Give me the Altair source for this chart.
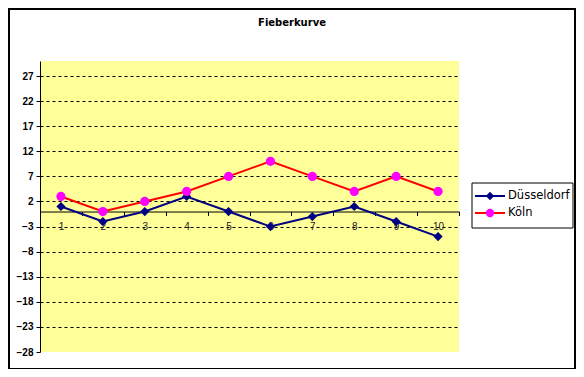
import altair as alt
import pandas as pd

# ---- data ----
days = [1, 2, 3, 4, 5, 6, 7, 8, 9, 10]
duesseldorf = [1, -2, 0, 3, 0, -3, -1, 1, -2, -5]
koeln = [3, 0, 2, 4, 7, 10, 7, 4, 7, 4]
series_names = ["Düsseldorf", "Köln"]
line_colors = ["#000080", "#FF0000"]
marker_colors = ["#000080", "#FF00FF"]
marker_shapes = ["diamond", "circle"]
y_ticks = [-28, -23, -18, -13, -8, -3, 2, 7, 12, 17, 22, 27]
y_domain = [-28, 30]
title_text = "Fieberkurve"

rows = []
for d, a, b in zip(days, duesseldorf, koeln):
    rows.append({"day": d, "temp": a, "series": series_names[0], "marker": series_names[0]})
    rows.append({"day": d, "temp": b, "series": series_names[1], "marker": series_names[1]})
df = pd.DataFrame(rows)

W, H = 419, 291
# pixel position of y = 0 from the top of the plot area
y0 = H * (y_domain[1] - 0) / (y_domain[1] - y_domain[0])

x_enc = alt.X(
    "day:O",
    bandPosition=0.5,
    scale=alt.Scale(type="band", paddingInner=0, paddingOuter=0),
    axis=alt.Axis(
        title=None, orient="bottom", offset=-(H - y0), labelAngle=0,
        tickBand="extent", tickSize=4, tickColor="black", domainColor="black",
        domainWidth=1, labelPadding=6, labelFont="Liberation Sans",
        labelFontSize=10, labelColor="#222222", grid=False,
    ),
)
y_enc = alt.Y(
    "temp:Q",
    scale=alt.Scale(domain=y_domain, nice=False, zero=False),
    axis=alt.Axis(
        title=None, values=y_ticks, tickSize=4, tickColor="black",
        domainColor="black", labelPadding=3, labelFont="Liberation Sans",
        labelFontSize=10, labelFontWeight="bold", labelColor="black",
        grid=True, gridColor="black", gridDash=[3, 3], gridWidth=1,
        gridOpacity=alt.condition("datum.value == -28", alt.value(0), alt.value(1)),
    ),
)

base = alt.Chart(df)
lines = base.mark_line(strokeWidth=2).encode(
    x=x_enc, y=y_enc,
    stroke=alt.Stroke("series:N", scale=alt.Scale(domain=series_names, range=line_colors), legend=None),
    detail="series:N",
)
points = base.mark_point(filled=True, opacity=1, size=85, strokeWidth=0).encode(
    x=x_enc, y=y_enc,
    fill=alt.Fill("marker:N", scale=alt.Scale(domain=series_names, range=marker_colors), legend=None),
    shape=alt.Shape("marker:N", scale=alt.Scale(domain=series_names, range=marker_shapes), legend=None),
)

# outer chart border
border = alt.Chart(pd.DataFrame({"a": [0]})).mark_rect(
    fill=None, stroke="black", strokeWidth=2
).encode(x=alt.value(-31), x2=alt.value(535), y=alt.value(-52), y2=alt.value(308))

# title
title = alt.Chart(pd.DataFrame({"t": [title_text]})).mark_text(
    font="DejaVu Sans", fontSize=10, fontWeight=600, color="black",
    align="center", baseline="middle",
).encode(text="t:N", x=alt.value(252), y=alt.value(-38))

# legend
leg_box = alt.Chart(pd.DataFrame({"a": [0]})).mark_rect(
    fill="white", stroke="black", strokeWidth=1
).encode(x=alt.value(432), x2=alt.value(533), y=alt.value(122), y2=alt.value(167))

legend_layers = [leg_box]
for i, name in enumerate(series_names):
    yy = 135 + 17 * i
    ldf = pd.DataFrame({"name": [name]})
    legend_layers.append(
        alt.Chart(ldf).mark_rule(color=line_colors[i], strokeWidth=2).encode(
            x=alt.value(435), x2=alt.value(465), y=alt.value(yy))
    )
    legend_layers.append(
        alt.Chart(ldf).mark_point(filled=True, opacity=1, size=70, strokeWidth=0,
                                  shape=marker_shapes[i], fill=marker_colors[i]).encode(
            x=alt.value(450), y=alt.value(yy))
    )
    legend_layers.append(
        alt.Chart(ldf).mark_text(font="DejaVu Sans", fontSize=11.5, color="black",
                                 align="left", baseline="middle").encode(
            text="name:N", x=alt.value(468), y=alt.value(yy))
    )

chart = alt.layer(lines, points, border, title, *legend_layers).properties(
    width=W, height=H,
    autosize=alt.AutoSizeParams(type="none"),
    padding={"left": 32, "top": 53, "right": 117, "bottom": 17},
    background="white",
).configure_view(fill="#FFFF99", strokeWidth=0)

chart.save("out.html", embed_options={"renderer": "svg", "actions": False})
